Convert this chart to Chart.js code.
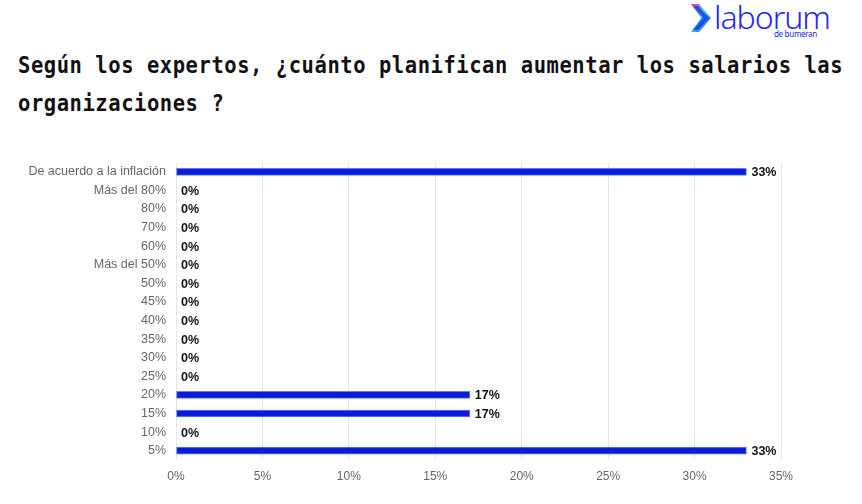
<!DOCTYPE html>
<html>
<head>
<meta charset="utf-8">
<script src="https://cdn.jsdelivr.net/npm/chart.js@4"></script>
<style>
  html, body { margin: 0; padding: 0; background: #fff; }
  body { width: 862px; height: 504px; position: relative; overflow: hidden; font-family: "Liberation Sans", Arial, sans-serif; }
  #logo { position: absolute; left: 688px; top: 1px; width: 150px; height: 40px; }
  #logo .word { position: absolute; left: 26px; top: -6px; font-family: "Noto Sans", sans-serif; font-weight: 300; font-size: 32px; color: #2626f5; letter-spacing: -1px; }
  #logo .sub { position: absolute; left: 86px; top: 27px; font-family: "Noto Sans", sans-serif; font-size: 8px; color: #2626f5; letter-spacing: -0.3px; }
  #title { position: absolute; left: 18px; top: 47px; width: 850px; font-family: "DejaVu Sans Mono", monospace; font-weight: bold; font-size: 20.5px; line-height: 33px; color: #111; letter-spacing: 0.55px; transform: scaleY(1.15); transform-origin: top left; }
  #wrap { position: absolute; left: 0; top: 145px; width: 862px; height: 359px; }
</style>
</head>
<body>
<div id="logo">
  <svg width="26" height="32" viewBox="0 0 26 32" style="position:absolute;left:0;top:1px">
    <defs>
      <linearGradient id="g" x1="0" y1="0" x2="1" y2="1">
        <stop offset="0" stop-color="#ff2d8a"/>
        <stop offset="0.45" stop-color="#1de0e0"/>
        <stop offset="1" stop-color="#2a2af5"/>
      </linearGradient>
    </defs>
    <polygon points="3,2 11,2 23,16 11,30 3,30 13,16" fill="url(#g)"/>
    <polygon points="5,4 10,4 21,16 10,28 5,28 15,16" fill="#2626f5" opacity="0.75"/>
  </svg>
  <div class="word">laborum</div>
  <div class="sub">de bumeran</div>
</div>
<div id="title">Según los expertos, ¿cuánto planifican aumentar los salarios las organizaciones ?</div>
<div id="wrap"><canvas id="salaryChart"></canvas></div>
<script>
// Categories (top to bottom) and share of answers in percent
var categories = ['De acuerdo a la inflación', 'Más del 80%', '80%', '70%', '60%', 'Más del 50%', '50%', '45%', '40%', '35%', '30%', '25%', '20%', '15%', '10%', '5%'];
var shares = [33, 0, 0, 0, 0, 0, 0, 0, 0, 0, 0, 0, 17, 17, 0, 33];
var xTicks = [0, 5, 10, 15, 20, 25, 30, 35];

// Plugin that writes the value at the end of each bar
var valueLabels = {
    id: 'valueLabels',
    afterDatasetsDraw: function(chart) {
        var ctx = chart.ctx;
        var meta = chart.getDatasetMeta(0);
        ctx.save();
        ctx.font = 'bold 12.5px "Liberation Sans", Arial, sans-serif';
        ctx.fillStyle = '#111';
        ctx.textBaseline = 'middle';
        ctx.textAlign = 'left';
        meta.data.forEach(function(bar, i) {
            ctx.fillText(shares[i] + '%', bar.x + 5, bar.y + 1);
        });
        ctx.restore();
    }
};

var ctx = document.getElementById('salaryChart').getContext('2d');
var salaryChart = new Chart(ctx, {
    type: 'bar',
    data: {
        labels: categories,
        datasets: [{
            data: shares,
            backgroundColor: '#0a1ed8',
            borderColor: '#6b7af0',
            borderWidth: 1,
            borderSkipped: false,
            barThickness: 7
        }]
    },
    options: {
        indexAxis: 'y',
        responsive: true,
        maintainAspectRatio: false,
        animation: false,
        layout: { padding: { top: 8, right: 81, left: 0, bottom: 0 } },
        plugins: {
            legend: { display: false },
            tooltip: { enabled: false }
        },
        scales: {
            x: {
                min: 0,
                max: 35,
                afterBuildTicks: function(scale) {
                    scale.ticks = xTicks.map(function(v) { return { value: v }; });
                },
                afterFit: function(scale) { scale.height = 44; },
                grid: { color: '#e6e6e6', drawTicks: false },
                border: { display: false },
                ticks: {
                    padding: 9,
                    color: '#666',
                    font: { family: '"Liberation Sans", Arial, sans-serif', size: 12 },
                    callback: function(v) { return v + '%'; }
                }
            },
            y: {
                afterFit: function(scale) { scale.width = 176; },
                grid: { display: false, drawTicks: false },
                border: { display: false },
                ticks: {
                    padding: 10,
                    color: '#666',
                    autoSkip: false,
                    font: { family: '"Liberation Sans", Arial, sans-serif', size: 12.5 }
                }
            }
        }
    },
    plugins: [valueLabels]
});
</script>
</body>
</html>
